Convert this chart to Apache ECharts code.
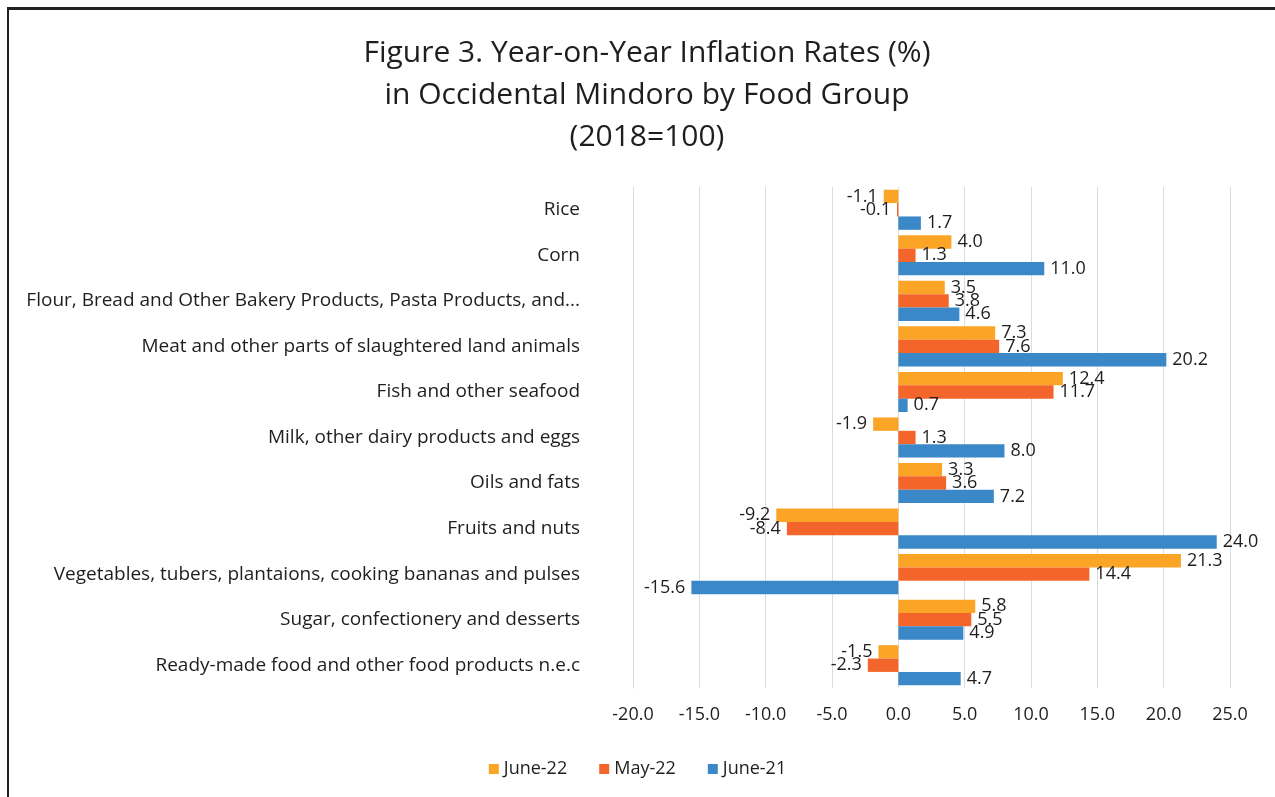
<!DOCTYPE html>
<html>
<head>
<meta charset="utf-8">
<script src="https://cdn.jsdelivr.net/npm/echarts@6/dist/echarts.min.js"></script>
<style>
  html, body { margin: 0; padding: 0; background: #fff; }
  #frame {
    position: absolute; left: 7px; top: 7px; width: 1270px; height: 800px;
    border-left: 2px solid #222; border-top: 3px solid #222;
  }
  #chart { position: absolute; left: 0; top: 0; width: 1275px; height: 797px; }
</style>
</head>
<body>
<div id="frame"></div>
<div id="chart"></div>
<script>
  const categories = [
    "Rice",
    "Corn",
    "Flour, Bread and Other Bakery Products, Pasta Products, and...",
    "Meat and other parts of slaughtered land animals",
    "Fish and other seafood",
    "Milk, other dairy products and eggs",
    "Oils and fats",
    "Fruits and nuts",
    "Vegetables, tubers, plantaions, cooking bananas and pulses",
    "Sugar, confectionery and desserts",
    "Ready-made food and other food products n.e.c"
  ];
  const june22 = [-1.1, 4.0, 3.5, 7.3, 12.4, -1.9, 3.3, -9.2, 21.3, 5.8, -1.5];
  const may22 = [-0.1, 1.3, 3.8, 7.6, 11.7, 1.3, 3.6, -8.4, 14.4, 5.5, -2.3];
  const june21 = [1.7, 11.0, 4.6, 20.2, 0.7, 8.0, 7.2, 24.0, -15.6, 4.9, 4.7];

  const font = "'Open Sans', sans-serif";

  // labels sit outside the bar end, left side for negatives
  const withLabels = (arr) => arr.map((v) => ({
    value: v,
    label: { position: v < 0 ? "left" : "right" }
  }));

  const makeSeries = (name, arr, color) => ({
    name: name,
    type: "bar",
    data: withLabels(arr),
    barGap: "0%",
    barCategoryGap: "12%",
    itemStyle: { color: color },
    label: {
      show: true,
      distance: 6,
      color: "#1e1e1e",
      fontSize: 18,
      fontFamily: font,
      formatter: (p) => p.value.toFixed(1)
    }
  });

  const myChart = echarts.init(document.getElementById("chart"));

  const option = {
    animation: false,
    title: {
      text: "Figure 3. Year-on-Year Inflation Rates (%)\nin Occidental Mindoro by Food Group\n(2018=100)",
      left: 642,
      textAlign: "center",
      top: 27,
      textStyle: {
        fontFamily: font,
        fontSize: 30,
        fontWeight: "normal",
        color: "#1e1e1e",
        lineHeight: 42
      }
    },
    legend: {
      data: ["June-22", "May-22", "June-21"],
      icon: "rect",
      itemWidth: 10,
      itemHeight: 10,
      itemGap: 32,
      left: "center",
      top: 755,
      selectedMode: false,
      textStyle: { fontFamily: font, fontSize: 18, color: "#1e1e1e" }
    },
    grid: {
      left: 633,
      right: 45,
      top: 187,
      bottom: 109
    },
    xAxis: {
      type: "value",
      min: -20,
      max: 25,
      interval: 5,
      axisLine: { show: false },
      axisTick: { show: false },
      splitLine: { lineStyle: { color: "#dcdcdc", width: 1 } },
      axisLabel: {
        margin: 18,
        fontFamily: font,
        fontSize: 18,
        color: "#1e1e1e",
        formatter: (v) => v.toFixed(1)
      }
    },
    yAxis: {
      type: "category",
      data: categories,
      inverse: true,
      axisLine: { show: true, onZero: false, lineStyle: { color: "#dcdcdc" } },
      axisTick: { show: false },
      axisLabel: {
        margin: 53,
        fontFamily: font,
        fontSize: 19,
        color: "#1e1e1e"
      }
    },
    series: [
      makeSeries("June-22", june22, "#fca426"),
      makeSeries("May-22", may22, "#f4652c"),
      makeSeries("June-21", june21, "#3b88c8")
    ]
  };

  myChart.setOption(option);
</script>
</body>
</html>
